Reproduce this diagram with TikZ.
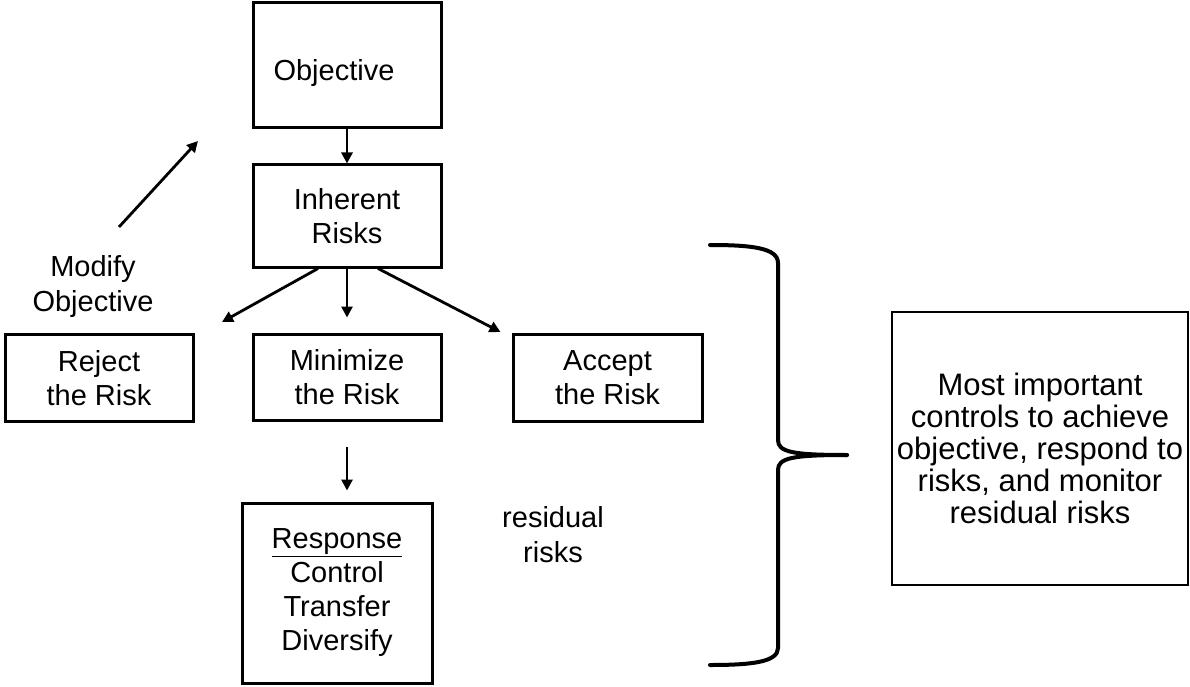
\documentclass[tikz,border=0pt]{standalone}
\usepackage{fontspec}
\setmainfont{Liberation Sans}
\usetikzlibrary{arrows.meta,positioning}
\tikzset{
    box/.style ={
        shape=rectangle,
        draw=black,
        line width=3pt,
        align=center,
        inner sep=0pt,
        font=\fontsize{29}{34}\selectfont
    },
    plain/.style ={
        align=center,
        inner sep=0pt,
        font=\fontsize{29}{35}\selectfont
    },
    arr/.style ={
        line width=2.8pt,
        -{Triangle[length=11pt,width=11pt]}
    },
    brace/.style ={
        line width=4pt,
        line cap=round
    }
}
\begin{document}
\begin{tikzpicture}[x=1pt,y=-1pt]
    \useasboundingbox (0,0) rectangle (1190,687);
    \node[box,minimum width=188pt,minimum height=125pt] (obj) at (347,65.5) {};
    \node[plain] (objtext) at (334,73) {Objective};
    \node[box,minimum width=188pt,minimum height=102pt] (inh) at (347,216) {Inherent\\Risks};
    \node[box,minimum width=188pt,minimum height=87pt] (rej) at (99,378) {Reject\\the Risk};
    \node[box,minimum width=188pt,minimum height=86pt] (mini) at (347,377) {Minimize\\the Risk};
    \node[box,minimum width=189pt,minimum height=87pt] (acc) at (607.5,378) {Accept\\the Risk};
    \node[box,minimum width=190pt,minimum height=180pt] (resp) at (337,593)
        {\underline{Response}\\Control\\Transfer\\Diversify};
    \node[box,line width=1.5pt,minimum width=296pt,minimum height=273pt,
        font=\fontsize{31}{32}\selectfont] (most) at (1040,448.5)
        {Most important\\controls to achieve\\objective, respond to\\risks, and monitor\\residual risks};
    \node[plain] (mod) at (93,287) {Modify\\Objective};
    \node[plain] (res) at (553,535) {residual\\risks};
    % free arrow ends
    \coordinate (modfrom) at (119,227);
    \coordinate (modto) at (198,141);
    \coordinate (rejtip) at (222,322);
    \coordinate (resptop) at (mini.south |- resp.north);
    \draw[arr] (obj.south) -- (inh.north);
    \draw[arr] ([xshift=-29pt]inh.south) -- (rejtip);
    \draw[arr] (inh.south) -- ([yshift=15pt]mini.north);
    \draw[arr] ([xshift=31pt]inh.south) -- ([xshift=-11pt,yshift=1pt]acc.north west);
    \draw[arr] ([yshift=-25pt]mini.south) -- ([yshift=11pt]resptop);
    \draw[arr] (modfrom) -- (modto);
    % brace
    \draw[brace] (710,245) .. controls (752,245) and (778,248) .. (778,263) -- (778,440)
        .. controls (778,452) and (792,455) .. (847,455);
    \draw[brace] (847,455) .. controls (792,455) and (778,458) .. (778,470) -- (778,648)
        .. controls (778,662) and (752,665) .. (710,665);
\end{tikzpicture}
\end{document}
